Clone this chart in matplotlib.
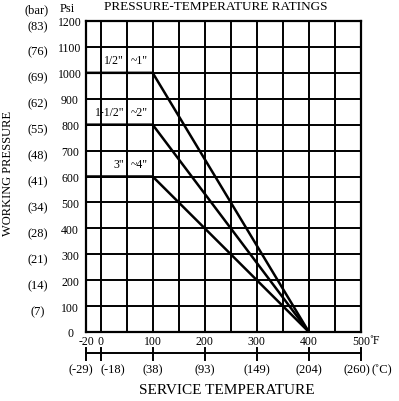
import matplotlib
matplotlib.use('Agg')
import matplotlib.pyplot as plt
import matplotlib.transforms as mtransforms

plt.rcParams['font.family'] = ['Liberation Serif', 'DejaVu Serif']

# pressure-temperature ratings
size_from = ['1/2"', '1-1/2"', '3"']
size_to = ['~1"', '~2"', '~4"']
max_psi = [1000, 800, 600]
knee_f = 100      # full rating up to this temperature
zero_f = 400      # rating reaches 0 here

# scales
psi_ticks = [0, 100, 200, 300, 400, 500, 600, 700, 800, 900, 1000, 1100, 1200]
bar_labels = ['', '(7)', '(14)', '(21)', '(28)', '(34)', '(41)', '(48)', '(55)',
              '(62)', '(69)', '(76)', '(83)']
f_ticks = [-20, 0, 100, 200, 300, 400, 500]
c_labels = ['(-29)', '(-18)', '(38)', '(93)', '(149)', '(204)', '(260)']
grid_f = [0, 50, 100, 150, 200, 250, 300, 350, 400, 450]

x_left = -28   # left border of the drawn chart (labelled -20)

fig = plt.figure(figsize=(3.99, 4.02), dpi=100)
ax = fig.add_axes([86 / 399, 1 - 333 / 402, 275 / 399, 311 / 402])
ax.set_xlim(x_left, 500)
ax.set_ylim(0, 1200)

for f in grid_f:
    ax.axvline(f, color='black', lw=1.4, zorder=1)
for p in psi_ticks[1:-1]:
    ax.axhline(p, color='black', lw=1.4, zorder=1)
for s in ax.spines.values():
    s.set_linewidth(1.6)

for p, a, b in zip(max_psi, size_from, size_to):
    ax.plot([x_left, knee_f, zero_f], [p, p, 0], color='black', lw=1.8, zorder=2)
    ax.text(45, p + 26, a, ha='right', va='bottom', fontsize=8.5)
    ax.text(57, p + 26, b, ha='left', va='bottom', fontsize=8.5)

# Fahrenheit labels
f_pos = [x_left] + f_ticks[1:]
ax.set_xticks(f_pos)
ax.set_xticklabels([str(v) for v in f_ticks], fontsize=8.5)
ax.tick_params(axis='x', length=0, pad=2)
ax.text(1.03, -0.005, '˚F', transform=ax.transAxes, ha='left', va='top', fontsize=8.5)

# psi labels
ax.set_yticks(psi_ticks)
ax.set_yticklabels([str(v) for v in psi_ticks], fontsize=8.5)
ax.tick_params(axis='y', length=0, pad=11.5)
for lab in ax.get_yticklabels():
    lab.set_horizontalalignment('center')

trans_y = mtransforms.blended_transform_factory(ax.transAxes, ax.transData)
for p, b in zip(psi_ticks, bar_labels):
    ax.annotate(b, (-0.175, p), xycoords=trans_y, xytext=(0, -3.5),
                textcoords='offset points', ha='center', va='center', fontsize=9,
                annotation_clip=False)

# Celsius scale under the chart
trans_x = mtransforms.blended_transform_factory(ax.transData, ax.transAxes)
ax.plot([x_left, 500], [-0.068, -0.068], transform=trans_x, color='black',
        lw=1.4, clip_on=False)
for f in f_pos:
    ax.plot([f, f], [-0.05, -0.09], transform=trans_x, color='black',
            lw=1.4, clip_on=False)
offsets = [-4, 9, 0, 0, 0, 0, -3]
for f, c, off in zip(f_pos, c_labels, offsets):
    ax.annotate(c, (f, -0.12), xycoords=trans_x, xytext=(off, 0),
                textcoords='offset points', ha='center', va='center', fontsize=9,
                annotation_clip=False)
ax.text(1.075, -0.12, '(˚C)', transform=ax.transAxes, ha='center', va='center', fontsize=9)

fig.text(37 / 399, 1 - 10 / 402, '(bar)', ha='center', va='center', fontsize=9)
fig.text(67 / 399, 1 - 9 / 402, 'Psi', ha='center', va='center', fontsize=9)
fig.text(216 / 399, 1 - 7 / 402, 'PRESSURE-TEMPERATURE RATINGS', ha='center',
         va='center', fontsize=9.5)
fig.text(8 / 399, 1 - 173 / 402, 'WORKING PRESSURE', rotation=90, ha='center',
         va='center', fontsize=9)
fig.text(227 / 399, 1 - 391 / 402, 'SERVICE TEMPERATURE', ha='center',
         va='center', fontsize=11)

fig.savefig('out.png', dpi=100)
